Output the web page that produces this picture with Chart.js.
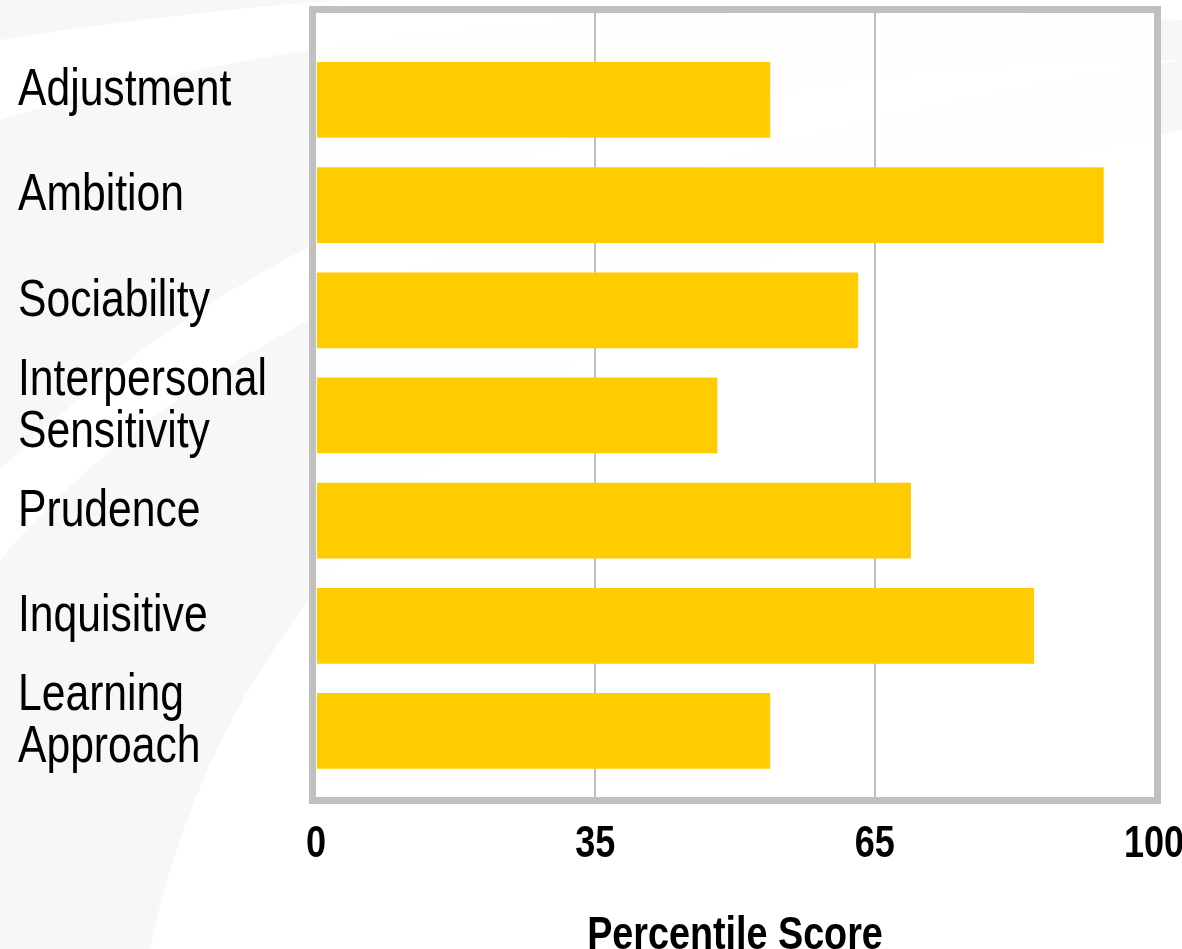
<!DOCTYPE html>
<html>
<head>
<meta charset="utf-8">
<script src="https://cdn.jsdelivr.net/npm/chart.js@4/dist/chart.umd.min.js"></script>
<style>
  html, body { margin: 0; padding: 0; background: #fff; }
  #wrap { width: 1182px; height: 949px; }
</style>
</head>
<body>
<div id="wrap"><canvas id="chart"></canvas></div>
<script>
// categories top to bottom
const categories = ['Adjustment', 'Ambition', 'Sociability', ['Interpersonal', 'Sensitivity'],
    'Prudence', 'Inquisitive', ['Learning', 'Approach']];
// bar ends, read as position along the axis (0 = left edge, 100 = right edge)
const scores = [54.2, 94.0, 64.7, 47.9, 71.0, 85.7, 54.2];
// the axis labels sit at thirds of the width
const tickValues = [0, 33.33, 66.67, 100];
const tickLabels = ['0', '35', '65', '100'];

const FONT = "'Liberation Sans', Arial, sans-serif";
const GREY = '#c0c0c0';
const NARROW = 0.82; // no Arial Narrow here, so squeeze Liberation Sans

const canvas = document.getElementById('chart');
const c2d = canvas.getContext('2d');
const origFill = c2d.fillText.bind(c2d);
c2d.fillText = (t, x, y, mw) => {
    let w = c2d.measureText(t).width * NARROW;
    if (mw !== undefined) w = Math.min(w, mw);
    origFill(t, x, y, w);
};

// faint swoosh behind everything, plot frame on top
const backdrop = {
    id: 'backdrop',
    beforeDraw(chart) {
        const ctx = chart.ctx;
        const a = chart.chartArea;
        ctx.save();
        ctx.fillStyle = '#fff';
        ctx.fillRect(0, 0, chart.width, chart.height);
        ctx.fillStyle = 'rgba(0,0,0,0.03)';
        ctx.beginPath();
        ctx.moveTo(0, 40);
        ctx.quadraticCurveTo(500, -40, 1182, -10);
        ctx.lineTo(1182, 0);
        ctx.lineTo(0, 0);
        ctx.closePath();
        ctx.fill();
        ctx.beginPath();
        ctx.moveTo(0, 120);
        ctx.quadraticCurveTo(450, -20, 1182, 20);
        ctx.lineTo(1182, 60);
        ctx.quadraticCurveTo(420, 60, 0, 470);
        ctx.closePath();
        ctx.fill();
        ctx.beginPath();
        ctx.moveTo(0, 560);
        ctx.quadraticCurveTo(300, 200, 1182, 60);
        ctx.lineTo(1182, 130);
        ctx.quadraticCurveTo(280, 330, 150, 949);
        ctx.lineTo(0, 949);
        ctx.closePath();
        ctx.fill();
        ctx.fillStyle = 'rgba(255,255,255,0.85)';
        ctx.fillRect(a.left, a.top, a.right - a.left, a.bottom - a.top);
        ctx.restore();
    },
    afterDraw(chart) {
        const ctx = chart.ctx;
        const a = chart.chartArea;
        ctx.save();
        ctx.strokeStyle = GREY;
        ctx.lineWidth = 7;
        ctx.strokeRect(a.left - 3.5, a.top - 3.5, a.right - a.left + 7, a.bottom - a.top + 7);
        ctx.restore();
    }
};

new Chart(canvas, {
    type: 'bar',
    data: {
        datasets: [{
            data: scores.map((v, i) => ({x: v, y: i})),
            backgroundColor: '#ffcc00',
            borderWidth: 0,
            barPercentage: 0.72,
            categoryPercentage: 1
        }]
    },
    options: {
        indexAxis: 'y',
        responsive: true,
        maintainAspectRatio: false,
        animation: false,
        layout: {padding: {left: 18, right: 28, top: 13, bottom: 0}},
        plugins: {legend: {display: false}, tooltip: {enabled: false}},
        scales: {
            x: {
                type: 'linear',
                min: 0,
                max: 100,
                afterBuildTicks: s => { s.ticks = tickValues.map(v => ({value: v})); },
                afterFit: s => {
                    s.height = 152;
                    s.paddingLeft = 0;
                    s.paddingRight = 0;
                },
                border: {display: false},
                grid: {
                    drawTicks: false,
                    color: c => (c.tick && (c.tick.value === 0 || c.tick.value === 100)) ? 'rgba(0,0,0,0)' : GREY,
                    lineWidth: 2
                },
                ticks: {
                    padding: 21,
                    color: '#000',
                    font: {family: FONT, size: 44, weight: 'bold'},
                    callback: (v, i) => tickLabels[i]
                },
                title: {
                    display: true,
                    text: 'Percentile Score',
                    color: '#000',
                    font: {family: FONT, size: 46, weight: 'bold', lineHeight: 1},
                    padding: {top: 0, bottom: -10}
                }
            },
            y: {
                type: 'linear',
                reverse: true,
                offset: false,
                min: -0.827,
                max: 6.628,
                afterBuildTicks: s => { s.ticks = categories.map((c, i) => ({value: i})); },
                afterFit: s => {
                    s.width = 298;
                    s.paddingTop = 0;
                    s.paddingBottom = 0;
                },
                border: {display: false},
                grid: {display: false},
                ticks: {
                    autoSkip: false,
                    crossAlign: 'far',
                    labelOffset: -9,
                    color: '#000',
                    font: {family: FONT, size: 52, lineHeight: 1},
                    callback: v => categories[v]
                }
            }
        }
    },
    plugins: [backdrop]
});
</script>
</body>
</html>
